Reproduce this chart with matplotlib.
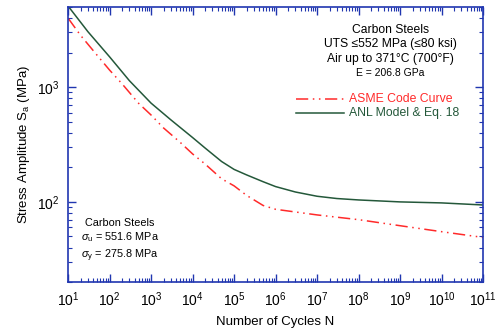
import numpy as np
import matplotlib
matplotlib.use('Agg')
import matplotlib.pyplot as plt
from matplotlib.ticker import LogLocator, NullFormatter

plt.rcParams['font.family'] = ['Liberation Sans', 'DejaVu Sans']
plt.rcParams['mathtext.fontset'] = 'custom'
plt.rcParams['mathtext.rm'] = 'Liberation Sans'
plt.rcParams['mathtext.it'] = 'Liberation Sans:italic'

# ASME code curve (carbon steels)
asme_n = [1e1, 2e1, 5e1, 1e2, 2e2, 5e2, 1e3, 2e3, 5e3, 1e4, 2e4, 5e4,
          1e5, 2e5, 5e5, 1e6, 1e7, 1e8, 1e9, 1e10, 1e11]
asme_s = [4000, 2830, 1900, 1410, 1070, 724, 572, 441, 331, 262, 214, 159,
          138, 114, 93.1, 86.2, 77, 70, 62, 55, 49]

# ANL model & Eq. 18
anl_n = [1e1, 3e1, 1e2, 3e2, 1e3, 3e3, 1e4, 2e4, 5e4, 1e5, 2e5, 5e5,
         1e6, 3e6, 1e7, 3e7, 1e8, 1e9, 1e10, 1e11]
anl_s = [5100, 3050, 1840, 1140, 726, 519, 364, 295, 225, 192, 172, 150,
         136, 122, 112, 107, 104, 100, 98, 94]

BLUE = '#2036b0'
RED = '#ff2a2a'
GREEN = '#24583a'
FS = 10

fig = plt.figure(figsize=(4.97, 3.35), dpi=100)
ax = fig.add_axes([0.137, 0.158, 0.835, 0.821])

ax.plot(asme_n, asme_s, color=RED, lw=1.1,
        linestyle=(0, (8, 3, 1, 3, 1, 3)))
ax.plot(anl_n, anl_s, color=GREEN, lw=1.1)

ax.set_xscale('log')
ax.set_yscale('log')
ax.set_xlim(1e1, 1e11)
ax.set_ylim(20, 5000)

ax.xaxis.set_major_locator(LogLocator(base=10, numticks=20))
ax.xaxis.set_minor_locator(LogLocator(base=10, subs=np.arange(2, 10), numticks=20))
ax.xaxis.set_minor_formatter(NullFormatter())
ax.yaxis.set_minor_formatter(NullFormatter())

for s in ax.spines.values():
    s.set_color(BLUE)
    s.set_linewidth(1.2)
ax.tick_params(which='both', direction='in', top=True, right=True, color=BLUE,
               labelsize=FS, pad=6)
ax.tick_params(which='major', length=6, width=1)
ax.tick_params(which='minor', length=3, width=0.8)

ax.set_xlabel('Number of Cycles N', fontsize=9.5, labelpad=5)
ax.set_ylabel('Stress Amplitude S$_\\mathrm{a}$ (MPa)', fontsize=9.5, labelpad=4)

# annotation top-right
tx = 0.777
ax.text(tx, 0.905, 'Carbon Steels', transform=ax.transAxes, ha='center', fontsize=8.7)
ax.text(tx, 0.855, 'UTS \u2264552 MPa (\u226480 ksi)', transform=ax.transAxes, ha='center', fontsize=8.7)
ax.text(tx, 0.800, 'Air up to 371\u00b0C (700\u00b0F)', transform=ax.transAxes, ha='center', fontsize=8.7)
ax.text(tx, 0.748, 'E = 206.8 GPa', transform=ax.transAxes, ha='center', fontsize=7.5)

# legend
ax.plot([0.55, 0.665], [0.665, 0.665], transform=ax.transAxes, color=RED,
        lw=1.1, linestyle=(0, (8, 3, 1, 3, 1, 3)))
ax.plot([0.55, 0.665], [0.615, 0.615], transform=ax.transAxes, color=GREEN, lw=1.1)
ax.text(0.677, 0.665, 'ASME Code Curve', transform=ax.transAxes, va='center',
        fontsize=8.8, color=RED)
ax.text(0.677, 0.615, 'ANL Model & Eq. 18', transform=ax.transAxes, va='center',
        fontsize=8.8, color=GREEN)

# annotation bottom-left
ax.text(0.125, 0.215, 'Carbon Steels', transform=ax.transAxes, ha='center',
        va='center', fontsize=7.8)
ax.text(0.125, 0.162, '$\\sigma_\\mathrm{u}$ = 551.6 MPa', transform=ax.transAxes,
        ha='center', va='center', fontsize=7.8)
ax.text(0.125, 0.095, '$\\sigma_\\mathrm{y}$ = 275.8 MPa', transform=ax.transAxes,
        ha='center', va='center', fontsize=7.8)

fig.savefig('out.png', dpi=100)
